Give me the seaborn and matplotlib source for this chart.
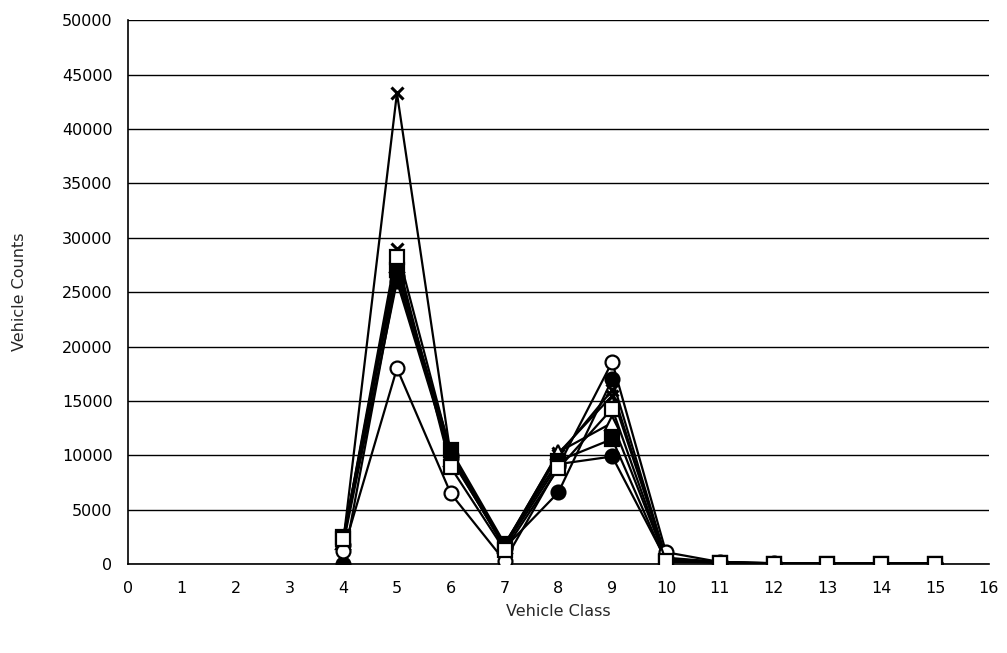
import pandas as pd
import matplotlib.pyplot as plt
import seaborn as sns

# =============================
# Data
# =============================
classes = [4, 5, 6, 7, 8, 9, 10, 11, 12, 13, 14, 15]

site_a = [2000, 43300, 10000, 1800, 10200, 15500, 600, 200, 100, 50, 50, 50]
site_b = [2200, 29000, 10200, 1700, 10000, 16000, 500, 200, 80, 50, 50, 50]
site_c = [2300, 28200, 8900, 1300, 8800, 14300, 300, 150, 50, 30, 40, 50]
site_d = [2500, 27000, 10500, 1900, 9500, 11500, 200, 150, 60, 40, 40, 50]
site_e = [0, 26500, 10000, 1500, 6600, 17000, 500, 150, 60, 40, 40, 50]
site_f = [1800, 26000, 9800, 1600, 9200, 9900, 400, 150, 60, 40, 40, 50]
site_g = [1200, 18000, 6500, 300, 9000, 18600, 1100, 200, 80, 50, 50, 50]
site_h = [2000, 27500, 9700, 1700, 10300, 13000, 400, 150, 60, 40, 40, 50]

series = {
    "A": site_a, "B": site_b, "C": site_c, "D": site_d,
    "E": site_e, "F": site_f, "G": site_g, "H": site_h,
}

# marker, face colour
styles = {
    "A": ("x", "black"),
    "B": ("x", "black"),
    "C": ("s", "white"),
    "D": ("s", "black"),
    "E": ("o", "black"),
    "F": ("o", "black"),
    "G": ("o", "white"),
    "H": ("^", "white"),
}

# draw order: open square on top, like the original
order = ["A", "B", "H", "F", "E", "D", "G", "C"]

# =============================
# Plotting
# =============================
sns.set_style("white")
plt.rcParams["font.family"] = ["DejaVu Sans"]

fig, ax = plt.subplots(figsize=(10.07, 6.53), dpi=100)
fig.subplots_adjust(left=0.127, right=0.982, top=0.969, bottom=0.136)

for name in order:
    df = pd.DataFrame({"Class": classes, "Count": series[name]})
    marker, face = styles[name]
    sns.lineplot(
        data=df, x="Class", y="Count", ax=ax,
        color="black", linewidth=1.6,
        marker=marker, markersize=10 if marker != "x" else 9,
        markerfacecolor=face, markeredgecolor="black",
        markeredgewidth=1.6 if marker != "x" else 2.2,
        legend=False, zorder=3,
    )

ax.set_xlim(0, 16)
ax.set_ylim(0, 50000)
ax.set_xticks(range(0, 17))
ax.set_yticks(range(0, 50001, 5000))
ax.yaxis.grid(True, color="black", linewidth=1.0)
ax.set_axisbelow(True)

for side in ["top", "right"]:
    ax.spines[side].set_visible(False)
for side in ["left", "bottom"]:
    ax.spines[side].set_color("black")
    ax.spines[side].set_linewidth(1.2)

ax.tick_params(axis="both", direction="out", length=5, width=1,
               color="black", labelsize=11.5, labelcolor="black")
ax.tick_params(axis="x", pad=7)
ax.tick_params(axis="y", pad=6)

ax.set_xlabel("Vehicle Class", fontsize=11.5, labelpad=6)
ax.set_ylabel("Vehicle Counts", fontsize=11.5, labelpad=25)

plt.savefig("out.png", dpi=100)
